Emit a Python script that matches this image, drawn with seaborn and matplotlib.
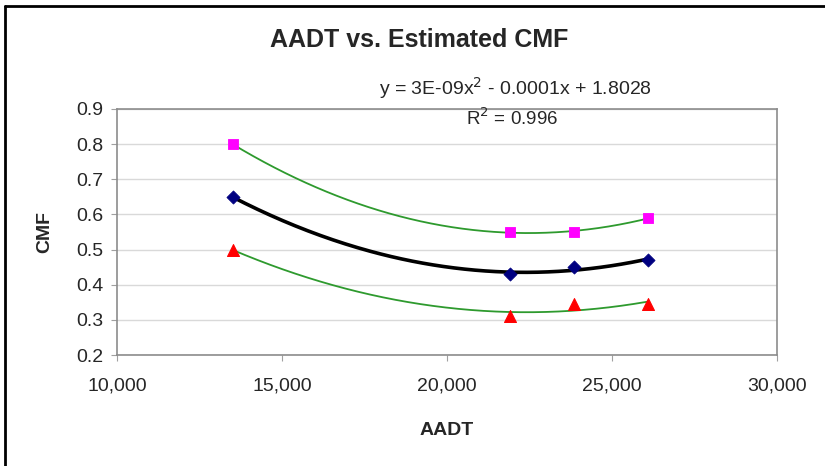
import numpy as np
import pandas as pd
import matplotlib
matplotlib.use("Agg")
import matplotlib.pyplot as plt
from matplotlib.lines import Line2D
from matplotlib.ticker import FuncFormatter
import seaborn as sns

# values
aadt = [13500, 21900, 23850, 26100]
cmf_est = [0.65, 0.43, 0.45, 0.47]
cmf_upper = [0.80, 0.55, 0.55, 0.59]
cmf_lower = [0.50, 0.31, 0.345, 0.345]

sns.set_style("white")
plt.rcParams['font.family'] = ['Liberation Sans', 'DejaVu Sans']

fig = plt.figure(figsize=(8.25, 4.66), dpi=100)
ax = fig.add_axes([117/825, 1-355/466, (777-117)/825, (355-109)/466])

# 2nd order polynomial trendlines (like the Excel ones)
xs = np.linspace(min(aadt), max(aadt), 200)
fits = []
for name, vals in [("est", cmf_est), ("upper", cmf_upper), ("lower", cmf_lower)]:
    c = np.polyfit(aadt, vals, 2)
    fits.append(pd.DataFrame({"AADT": xs, "CMF": np.polyval(c, xs), "s": name}))
fit_df = pd.concat(fits)

sns.lineplot(data=fit_df[fit_df.s == "upper"], x="AADT", y="CMF", color="#2e9a2e", lw=1.3, ax=ax)
sns.lineplot(data=fit_df[fit_df.s == "lower"], x="AADT", y="CMF", color="#2e9a2e", lw=1.3, ax=ax)
sns.lineplot(data=fit_df[fit_df.s == "est"], x="AADT", y="CMF", color="black", lw=2.6, ax=ax)

pts = pd.DataFrame({"AADT": aadt, "est": cmf_est, "upper": cmf_upper, "lower": cmf_lower})
sns.scatterplot(data=pts, x="AADT", y="est", marker="D", s=45, color="#000080", edgecolor="#000080", ax=ax, zorder=5)
sns.scatterplot(data=pts, x="AADT", y="upper", marker="s", s=60, color="#ff00ff", edgecolor="#ff00ff", ax=ax, zorder=5)
sns.scatterplot(data=pts, x="AADT", y="lower", marker="^", s=75, color="#ff0000", edgecolor="#ff0000", ax=ax, zorder=5)

ax.set_xlim(10000, 30000)
ax.set_ylim(0.2, 0.9)
ax.set_xticks([10000, 15000, 20000, 25000, 30000])
ax.set_yticks([0.2, 0.3, 0.4, 0.5, 0.6, 0.7, 0.8, 0.9])
ax.xaxis.set_major_formatter(FuncFormatter(lambda v, p: f"{int(v):,}"))
ax.set_yticklabels([f"{v:.1f}" for v in ax.get_yticks()])
ax.yaxis.grid(True, color="#d9d9d9", lw=1)
ax.tick_params(axis="both", labelsize=14, length=4, color="#a0a0a0", direction="out",
               bottom=True, left=True, pad=6)
ax.tick_params(axis="x", pad=12)
for sp in ax.spines.values():
    sp.set_color("#8c8c8c")
    sp.set_linewidth(1.2)

ax.set_xlabel("AADT", fontsize=14, fontweight="bold", labelpad=20)
ax.set_ylabel("CMF", fontsize=14, fontweight="bold", labelpad=16)

fig.text(419/825, 1-40/466, "AADT vs. Estimated CMF", fontsize=18, fontweight="bold",
         ha="center", va="center")
fig.text(515/825, 1-88/466, "y = 3E-09x$^2$ - 0.0001x + 1.8028", fontsize=14,
         ha="center", va="center")
fig.text(512/825, 1-118/466, "R$^2$ = 0.996", fontsize=13.5, ha="center", va="center")

# outer chart frame (top and left edges visible)
fig.add_artist(Line2D([5/825, 1], [1-6/466, 1-6/466], transform=fig.transFigure, color="black", lw=2))
fig.add_artist(Line2D([5/825, 5/825], [0, 1-6/466], transform=fig.transFigure, color="black", lw=2))

fig.savefig("out.png", dpi=100)
